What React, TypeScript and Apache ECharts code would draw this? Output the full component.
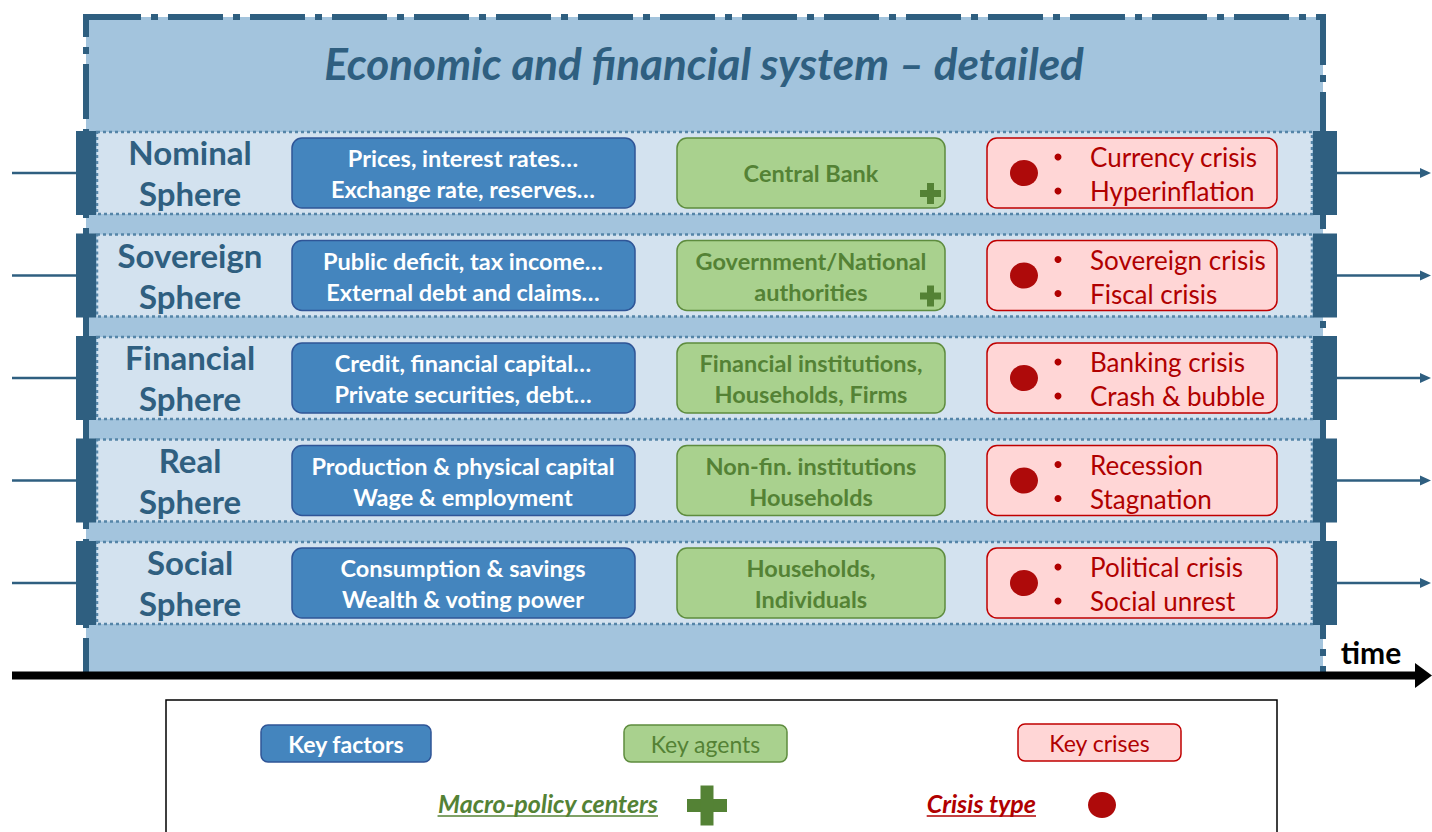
import React, { useEffect, useRef } from "react";
import * as echarts from "echarts";

const TITLE = "Economic and financial system \u2013 detailed";
const SPHERES: string[][] = [
  ["Nominal", "Sphere"],
  ["Sovereign", "Sphere"],
  ["Financial", "Sphere"],
  ["Real", "Sphere"],
  ["Social", "Sphere"],
];
const FACTORS: string[][] = [
  ["Prices, interest rates\u2026", "Exchange rate, reserves\u2026"],
  ["Public deficit, tax income\u2026", "External debt and claims\u2026"],
  ["Credit, financial capital\u2026", "Private securities, debt\u2026"],
  ["Production & physical capital", "Wage & employment"],
  ["Consumption & savings", "Wealth & voting power"],
];
const AGENTS: string[][] = [
  ["Central Bank"],
  ["Government/National", "authorities"],
  ["Financial institutions,", "Households, Firms"],
  ["Non-fin. institutions", "Households"],
  ["Households,", "Individuals"],
];
const POLICY_CENTER: boolean[] = [true, true, false, false, false];
const CRISES: string[][] = [
  ["Currency crisis", "Hyperinflation"],
  ["Sovereign crisis", "Fiscal crisis"],
  ["Banking crisis", "Crash & bubble"],
  ["Recession", "Stagnation"],
  ["Political crisis", "Social unrest"],
];
const LEGEND_BOXES = ["Key factors", "Key agents", "Key crises"];
const LEGEND_MARKS = ["Macro-policy centers", "Crisis type"];
const TIME_LABEL = "time";

const FF = "Lato, 'Open Sans', sans-serif";
const DARK = "#2F5F80";
const BLUE = "#4485BE";
const BLUE_B = "#2F5597";
const GREEN = "#A9D18E";
const GREEN_B = "#5E8C3E";
const GREEN_T = "#548235";
const PINK = "#FFD6D6";
const RED_B = "#C00000";
const RED_T = "#B00000";
const RED_DOT = "#AE0A0A";

function measure(text: string, font: string): number {
  const c = document.createElement("canvas");
  const ctx = c.getContext("2d")!;
  ctx.font = font;
  return ctx.measureText(text).width;
}

function txt(text: string, x: number, y: number, font: string, fill: string, align = "center", z = 10) {
  return {
    type: "text",
    z,
    style: { text, x, y, font, fill, textAlign: align, textVerticalAlign: "middle" },
  };
}

function plus(cx: number, cy: number, size: number, arm: number, fill: string) {
  return [
    { type: "rect", z: 12, shape: { x: cx - size / 2, y: cy - arm / 2, width: size, height: arm }, style: { fill } },
    { type: "rect", z: 12, shape: { x: cx - arm / 2, y: cy - size / 2, width: arm, height: size }, style: { fill } },
  ];
}

function buildElements() {
  const els: any[] = [];
  els.push({
    type: "rect",
    z: 1,
    shape: { x: 86, y: 17, width: 1237, height: 659 },
    style: { fill: "#A3C4DD", stroke: DARK, lineWidth: 6, lineDash: [55, 10, 7, 10] },
  });
  els.push(txt(TITLE, 704, 63, `italic bold 44px ${FF}`, DARK));

  const fSph = `bold 33px ${FF}`;
  const fFac = `bold 23.5px ${FF}`;
  const fAg = `bold 23.5px ${FF}`;
  const fCr = `26px ${FF}`;

  SPHERES.forEach((sph, i) => {
    const t = 132 + i * 102.5;
    const c = t + 41;
    els.push({
      type: "rect",
      z: 3,
      shape: { x: 97, y: t, width: 1215, height: 82 },
      style: { fill: "#D3E2EF", stroke: "#5585A8", lineWidth: 2.5, lineDash: [3, 3] },
    });
    els.push({ type: "rect", z: 4, shape: { x: 76, y: t - 1, width: 20, height: 84 }, style: { fill: DARK } });
    els.push({ type: "rect", z: 4, shape: { x: 1313, y: t - 1, width: 24, height: 84 }, style: { fill: DARK } });
    els.push({ type: "line", z: 4, shape: { x1: 12, y1: c, x2: 76, y2: c }, style: { stroke: DARK, lineWidth: 2.5 } });
    els.push({ type: "line", z: 4, shape: { x1: 1337, y1: c, x2: 1422, y2: c }, style: { stroke: DARK, lineWidth: 2.5 } });
    els.push({ type: "polygon", z: 4, shape: { points: [[1420, c - 5], [1431, c], [1420, c + 5]] }, style: { fill: DARK } });
    els.push(txt(sph[0], 190, c - 21, fSph, DARK));
    els.push(txt(sph[1], 190, c + 20, fSph, DARK));
    els.push({
      type: "rect", z: 5,
      shape: { x: 292, y: t + 6, width: 343, height: 70, r: 10 },
      style: { fill: BLUE, stroke: BLUE_B, lineWidth: 1.5 },
    });
    els.push(txt(FACTORS[i][0], 463, c - 15, fFac, "#FFFFFF"));
    els.push(txt(FACTORS[i][1], 463, c + 16, fFac, "#FFFFFF"));
    els.push({
      type: "rect", z: 5,
      shape: { x: 677, y: t + 6, width: 268, height: 70, r: 10 },
      style: { fill: GREEN, stroke: GREEN_B, lineWidth: 1.5 },
    });
    const ag = AGENTS[i];
    if (ag.length === 1) {
      els.push(txt(ag[0], 811, c, fAg, GREEN_T));
    } else {
      els.push(txt(ag[0], 811, c - 15, fAg, GREEN_T));
      els.push(txt(ag[1], 811, c + 16, fAg, GREEN_T));
    }
    if (POLICY_CENTER[i]) els.push(...plus(930.5, t + 61.5, 21, 7, GREEN_T));
    els.push({
      type: "rect", z: 5,
      shape: { x: 987, y: t + 6, width: 290, height: 70, r: 10 },
      style: { fill: PINK, stroke: RED_B, lineWidth: 1.5 },
    });
    els.push({ type: "ellipse", z: 6, shape: { cx: 1024, cy: c, rx: 14, ry: 13 }, style: { fill: RED_DOT } });
    els.push({ type: "circle", z: 6, shape: { cx: 1058, cy: c - 16, r: 3.5 }, style: { fill: RED_T } });
    els.push({ type: "circle", z: 6, shape: { cx: 1058, cy: c + 18, r: 3.5 }, style: { fill: RED_T } });
    els.push(txt(CRISES[i][0], 1090, c - 16, fCr, RED_T, "left"));
    els.push(txt(CRISES[i][1], 1090, c + 18, fCr, RED_T, "left"));
  });

  els.push({ type: "rect", z: 8, shape: { x: 12, y: 671.5, width: 1405, height: 8 }, style: { fill: "#000" } });
  els.push({ type: "polygon", z: 8, shape: { points: [[1415, 663], [1432, 675.5], [1415, 688]] }, style: { fill: "#000" } });
  els.push(txt(TIME_LABEL, 1371, 652, `bold 30px ${FF}`, "#000"));

  els.push({
    type: "rect", z: 2,
    shape: { x: 166, y: 700, width: 1111, height: 150 },
    style: { fill: "#FFFFFF", stroke: "#000", lineWidth: 1.5 },
  });
  els.push({ type: "rect", z: 5, shape: { x: 261, y: 725, width: 170, height: 37, r: 7 }, style: { fill: BLUE, stroke: BLUE_B, lineWidth: 1.5 } });
  els.push(txt(LEGEND_BOXES[0], 346, 744, `bold 23px ${FF}`, "#FFFFFF"));
  els.push({ type: "rect", z: 5, shape: { x: 624, y: 725, width: 163, height: 37, r: 7 }, style: { fill: GREEN, stroke: GREEN_B, lineWidth: 1.5 } });
  els.push(txt(LEGEND_BOXES[1], 705.5, 744, `23px ${FF}`, GREEN_T));
  els.push({ type: "rect", z: 5, shape: { x: 1018, y: 724, width: 163, height: 37, r: 7 }, style: { fill: PINK, stroke: RED_B, lineWidth: 1.5 } });
  els.push(txt(LEGEND_BOXES[2], 1099.5, 743, `23px ${FF}`, RED_T));

  const f1 = `italic bold 25px ${FF}`;
  const w1 = measure(LEGEND_MARKS[0], f1);
  els.push(txt(LEGEND_MARKS[0], 658, 803, f1, GREEN_T, "right"));
  els.push({ type: "line", z: 10, shape: { x1: 658 - w1, y1: 816, x2: 658, y2: 816 }, style: { stroke: GREEN_T, lineWidth: 1.5 } });
  els.push(...plus(707, 805.5, 40, 13, GREEN_T));

  const w2 = measure(LEGEND_MARKS[1], f1);
  els.push(txt(LEGEND_MARKS[1], 1036, 803, f1, RED_T, "right"));
  els.push({ type: "line", z: 10, shape: { x1: 1036 - w2, y1: 816, x2: 1036, y2: 816 }, style: { stroke: RED_T, lineWidth: 1.5 } });
  els.push({ type: "ellipse", z: 6, shape: { cx: 1102, cy: 805, rx: 14, ry: 13 }, style: { fill: RED_DOT } });

  return els;
}

export default function App() {
  const ref = useRef<HTMLDivElement>(null);
  useEffect(() => {
    document.body.style.margin = "0";
    const chart = echarts.init(ref.current!, undefined, { renderer: "svg" });
    chart.setOption({
      animation: false,
      backgroundColor: "#FFFFFF",
      graphic: { elements: buildElements() },
    });
    return () => chart.dispose();
  }, []);
  return <div ref={ref} style={{ position: "absolute", left: 0, top: 0, width: 1432, height: 832 }} />;
}
